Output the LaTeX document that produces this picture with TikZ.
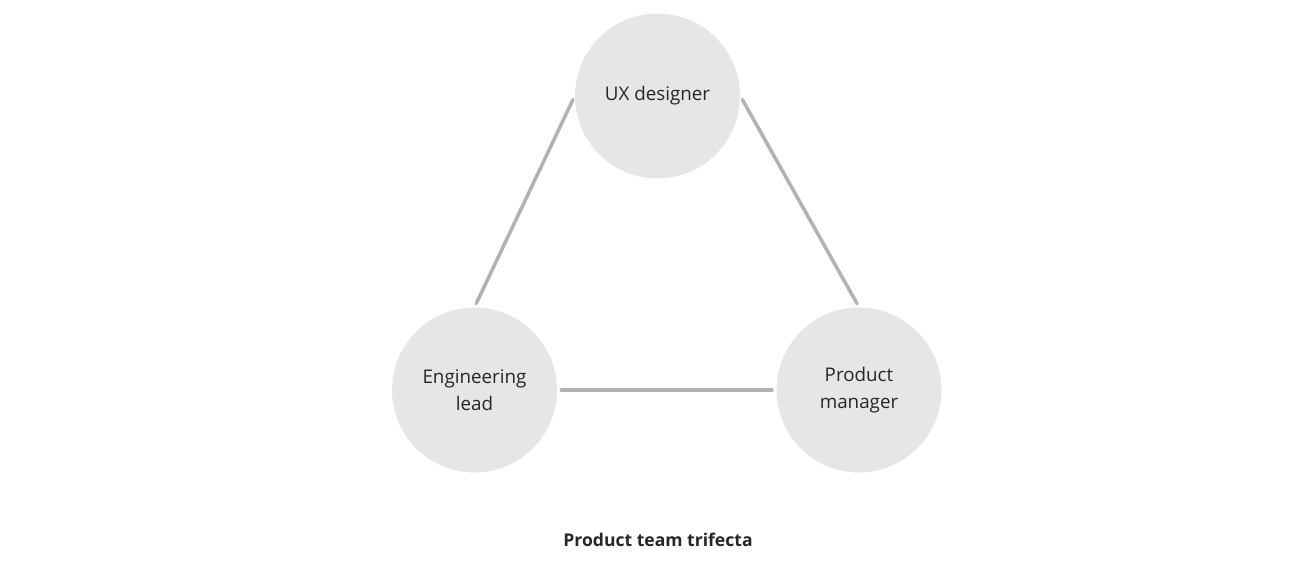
\documentclass[tikz,border=0pt]{standalone}
\usepackage{fontspec}
\setmainfont{Open Sans}
\usepackage{tikz}
\usetikzlibrary{positioning}
\definecolor{circfill}{HTML}{E6E6E6}
\definecolor{linkgray}{HTML}{B2B2B2}
\definecolor{txt}{HTML}{262626}
\begin{document}
\begin{tikzpicture}[
    x=0.02cm, y=-0.02cm,
    role/.style={circle, fill=circfill, minimum size=3.3cm, inner sep=0pt,
                 font=\fontsize{10.7}{15.4}\selectfont, text=txt, align=center},
    link/.style={draw=linkgray, line width=2pt, line cap=round,
                 shorten <=0.08cm, shorten >=0.08cm}
  ]
  \useasboundingbox (0,0) rectangle (1310,570);
  \node[role] (ux)  at (657.5,96)  {UX designer};
  \node[role] (eng) at (474.5,390) {Engineering\\lead};
  \node[role] (pm)  at (859,390)   {Product\\manager};
  \draw[link] (ux.west)  -- (eng.north);
  \draw[link] (ux.east)  -- (pm.north);
  \draw[link] (eng.east) -- (pm.west);
  \node[font=\fontsize{10}{12}\selectfont\bfseries, text=txt] (title) at (658,540) {Product team trifecta};
\end{tikzpicture}
\end{document}
